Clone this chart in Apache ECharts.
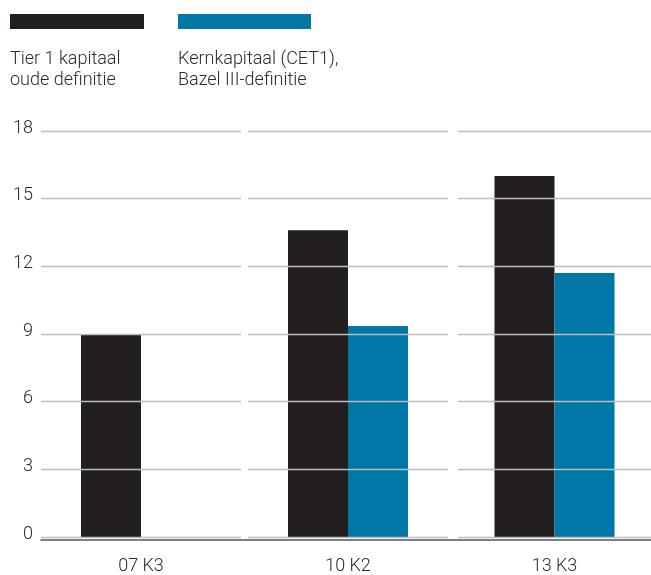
<!DOCTYPE html>
<html>
<head>
<meta charset="utf-8">
<script src="https://cdn.jsdelivr.net/npm/echarts@6/dist/echarts.min.js"></script>
<style>html,body{margin:0;padding:0;background:#fff}#c{width:651px;height:575px}</style>
</head>
<body>
<div id="c"></div>
<script>
const categories = ['07 K3', '10 K2', '13 K3'];
const tier1 = [9.0, 13.6, 16.0];
const cet1 = [null, 9.35, 11.7];
const yTicks = [0, 3, 6, 9, 12, 15, 18];
const seriesNames = ['Tier 1 kapitaal\noude definitie', 'Kernkapitaal (CET1),\nBazel III-definitie'];

const colors = ['#231f20', '#0077a6'];
const textColor = '#2b2b2b';
const font = 'Roboto, "Liberation Sans", sans-serif';
const fw = 300;
const fs = 18;
const gridLefts = [41, 248, 458];

const grids = [], xAxes = [], yAxes = [], series = [];
categories.forEach((cat, i) => {
  grids.push({ left: gridLefts[i], width: 200, top: 131, bottom: 35 });
  xAxes.push({
    type: 'category', gridIndex: i, data: [cat], z: 3,
    axisLine: { show: false }, axisTick: { show: false },
    axisLabel: { color: textColor, fontSize: fs, fontWeight: fw, fontFamily: font, margin: 20 }
  });
  yAxes.push({
    type: 'value', gridIndex: i, min: yTicks[0], max: yTicks[yTicks.length - 1], interval: 3, z: 3,
    axisLine: { show: false }, axisTick: { show: false },
    splitLine: { show: true, lineStyle: { color: '#bdbdbd', width: 1.3 } },
    axisLabel: { show: i === 0, color: textColor, fontSize: fs, fontWeight: fw, fontFamily: font, margin: 8,
      verticalAlign: 'bottom', lineHeight: 6 }
  });
  series.push({
    type: 'bar', name: seriesNames[0], xAxisIndex: i, yAxisIndex: i,
    data: [tier1[i]], barWidth: 60, barGap: '0%', itemStyle: { color: colors[0] }
  });
  series.push({
    type: 'bar', name: seriesNames[1], xAxisIndex: i, yAxisIndex: i,
    data: [cet1[i]], barWidth: 60, barGap: '0%', itemStyle: { color: colors[1] }
  });
});
// baseline grid
grids.push({ left: 41, width: 617, top: 131, bottom: 35 });
xAxes.push({
  type: 'value', gridIndex: 3, min: 0, max: 1, z: 4,
  axisLine: { show: true, lineStyle: { color: '#555555', width: 1.5 } },
  axisTick: { show: false }, axisLabel: { show: false }, splitLine: { show: false }
});
yAxes.push({ type: 'value', gridIndex: 3, show: false, min: 0, max: 1 });

const chart = echarts.init(document.getElementById('c'), null, { renderer: 'canvas' });
chart.setOption({
  animation: false,
  backgroundColor: '#ffffff',
  title: [
    { text: seriesNames[0], left: 10, top: 49, padding: 0,
      textStyle: { color: textColor, fontSize: fs, fontWeight: fw, fontFamily: font, lineHeight: 21 } },
    { text: seriesNames[1], left: 178, top: 49, padding: 0,
      textStyle: { color: textColor, fontSize: fs, fontWeight: fw, fontFamily: font, lineHeight: 21 } }
  ],
  legend: [
    { data: [seriesNames[0]], left: 10, top: 14, padding: 0, icon: 'rect', itemWidth: 134, itemHeight: 15,
      formatter: () => '', selectedMode: false },
    { data: [seriesNames[1]], left: 178, top: 14, padding: 0, icon: 'rect', itemWidth: 133, itemHeight: 15,
      formatter: () => '', selectedMode: false }
  ],
  grid: grids,
  xAxis: xAxes,
  yAxis: yAxes,
  series: series
});
</script>
</body>
</html>
